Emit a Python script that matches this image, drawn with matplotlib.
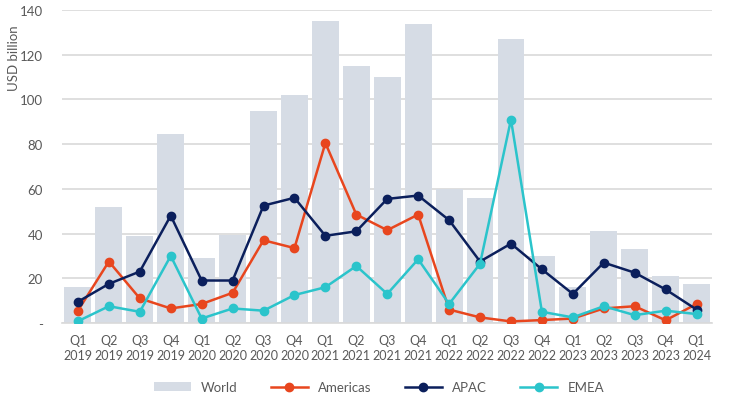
import matplotlib
matplotlib.use("Agg")
from matplotlib import pyplot as plt
import numpy as np

quarters = ["Q1\n2019", "Q2\n2019", "Q3\n2019", "Q4\n2019",
            "Q1\n2020", "Q2\n2020", "Q3\n2020", "Q4\n2020",
            "Q1\n2021", "Q2\n2021", "Q3\n2021", "Q4\n2021",
            "Q1\n2022", "Q2\n2022", "Q3\n2022", "Q4\n2022",
            "Q1\n2023", "Q2\n2023", "Q3\n2023", "Q4\n2023",
            "Q1\n2024"]
world = [16, 52, 39, 84.5, 29, 39.5, 95, 102, 135, 115, 110, 133.5,
         60, 56, 127, 30, 16, 41, 33, 21, 17.5]
americas = [5.5, 27.5, 11, 6.5, 8.5, 13.5, 37, 33.5, 80.5, 48.5, 41.5, 48.5,
            6, 2.5, 0.7, 1.3, 2, 6.5, 7.5, 1.2, 8.5]
apac = [9.5, 17.5, 23, 48, 19, 19, 52.5, 56, 39, 41, 55.5, 57,
        46, 27.5, 35.5, 24, 13, 27, 22.5, 15, 6]
emea = [0.8, 7.5, 5, 30, 2, 6.5, 5.5, 12.5, 16, 25.5, 13, 28.5,
        8.5, 26.5, 91, 5, 2.5, 7.5, 3.5, 5.5, 4]
yticks = [0, 20, 40, 60, 80, 100, 120, 140]
ytick_labels = ["-", "20", "40", "60", "80", "100", "120", "140"]

plt.rcParams['font.family'] = ['Lato', 'DejaVu Sans']
grey = "#595959"

fig = plt.figure(figsize=(7.29, 4.06), dpi=100)
ax = fig.add_axes([0.0857, 0.202, 0.891, 0.771])

x = np.arange(len(quarters))
ax.bar(x, world, width=0.87, color="#D6DCE5", label="World", zorder=2)
ax.plot(x, americas, color="#E8461E", marker="o", markersize=6, lw=1.8, label="Americas", zorder=3)
ax.plot(x, apac, color="#0B1F5C", marker="o", markersize=6, lw=1.8, label="APAC", zorder=3)
ax.plot(x, emea, color="#2BC4CB", marker="o", markersize=6, lw=1.8, label="EMEA", zorder=3)

ax.set_xlim(-0.5, len(quarters) - 0.5)
ax.set_ylim(0, 140)
ax.set_yticks(yticks)
ax.set_yticklabels(ytick_labels)
ax.set_xticks(x)
ax.set_xticklabels(quarters, linespacing=1.25)
ax.yaxis.grid(True, color="#D9D9D9", lw=1.2, zorder=0)
ax.set_axisbelow(True)
for s in ["top", "right", "left"]:
    ax.spines[s].set_visible(False)
ax.spines["bottom"].set_color("#D9D9D9")
ax.spines["bottom"].set_linewidth(1.2)
ax.tick_params(axis="both", length=0, labelsize=9, colors=grey, pad=8)
ax.tick_params(axis="y", pad=14, labelsize=9.5)
ax.set_ylabel("USD billion", fontsize=9.5, color=grey)
ax.yaxis.set_label_coords(-0.065, 0.85)

handles, labels = ax.get_legend_handles_labels()
order = [3, 0, 1, 2]
fig.legend([handles[i] for i in order], [labels[i] for i in order],
           loc="lower center", bbox_to_anchor=(0.52, 0.0), ncol=4, frameon=False,
           fontsize=9.5, labelcolor=grey, handlelength=2.8, columnspacing=2.5)

fig.savefig("out.png", dpi=100)
